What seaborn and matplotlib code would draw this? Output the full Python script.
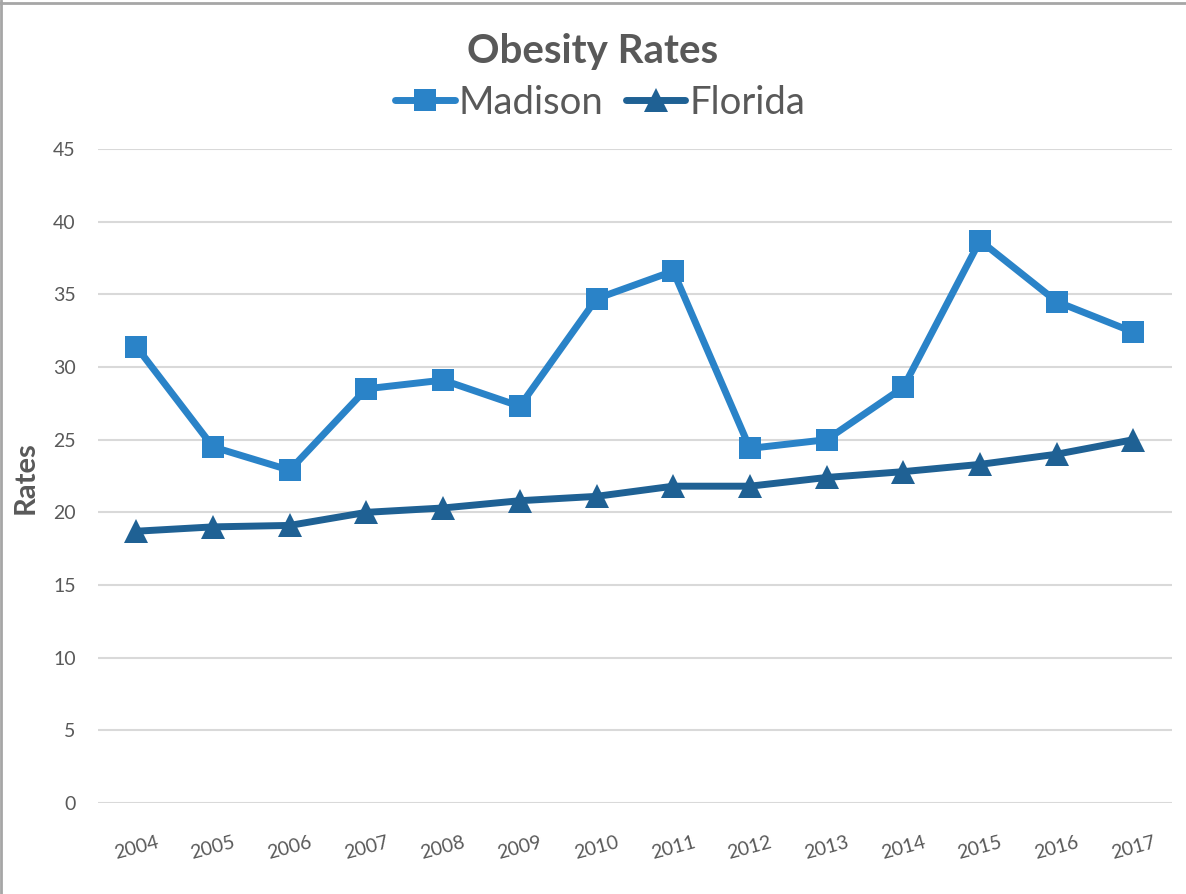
import matplotlib
matplotlib.use("Agg")
import matplotlib.pyplot as plt
import seaborn as sns
import pandas as pd
from matplotlib.lines import Line2D

years = ["2004", "2005", "2006", "2007", "2008", "2009", "2010",
         "2011", "2012", "2013", "2014", "2015", "2016", "2017"]
madison = [31.4, 24.5, 22.9, 28.5, 29.1, 27.3, 34.7, 36.6, 24.4, 25.0, 28.6, 38.7, 34.5, 32.4]
florida = [18.7, 19.0, 19.1, 20.0, 20.3, 20.8, 21.1, 21.8, 21.8, 22.4, 22.8, 23.3, 24.0, 25.0]
series_names = ["Madison", "Florida"]
yticks = [0, 5, 10, 15, 20, 25, 30, 35, 40, 45]

sns.set_theme(style="white")
plt.rcParams['font.family'] = ['Lato', 'DejaVu Sans']

c_mad = "#2A83C8"
c_flo = "#1F6194"
grey = "#595959"

df = pd.DataFrame({
    "pos": list(range(len(years))) * 2,
    "Year": years * 2,
    "Rate": madison + florida,
    "Series": [series_names[0]] * len(years) + [series_names[1]] * len(years),
})

fig = plt.figure(figsize=(11.86, 8.94), dpi=100)
ax = fig.add_axes([0.0826, 0.1018, 0.9054, 0.7315])

sns.lineplot(data=df[df.Series == "Madison"], x="pos", y="Rate", ax=ax,
             color=c_mad, linewidth=5, marker="s", markersize=16,
             markeredgewidth=0, legend=False, zorder=3)
sns.lineplot(data=df[df.Series == "Florida"], x="pos", y="Rate", ax=ax,
             color=c_flo, linewidth=5, marker="^", markersize=17,
             markeredgewidth=0, legend=False, zorder=3)

ax.set_xlim(-0.5, len(years) - 0.5)
ax.set_ylim(0, 45)
ax.set_yticks(yticks)
ax.set_yticklabels([str(v) for v in yticks], fontsize=14, color=grey)
ax.set_xticks(range(len(years)))
ax.set_xticklabels(years, rotation=15, fontsize=14, color=grey, ha="center")
ax.tick_params(axis="x", pad=22, length=0)
ax.tick_params(axis="y", pad=16, length=0)
ax.grid(axis="y", color="#D9D9D9", linewidth=1.5)
ax.set_axisbelow(True)
for s in ax.spines.values():
    s.set_visible(False)
ax.set_xlabel("")
ax.set_ylabel("Rates", fontsize=21, fontweight="bold", color=grey)
ax.yaxis.set_label_coords(-0.055, 0.497)

fig.text(0.5, 0.942, "Obesity Rates", ha="center", va="center",
         fontsize=29, fontweight="bold", color=grey)

handles = [Line2D([], [], color=c_mad, lw=5, marker="s", markersize=16, markeredgewidth=0),
           Line2D([], [], color=c_flo, lw=5, marker="^", markersize=17, markeredgewidth=0)]
fig.legend(handles, series_names, loc="center", bbox_to_anchor=(0.506, 0.885),
           ncol=2, frameon=False, fontsize=27.5, labelcolor=grey,
           handlelength=1.55, handletextpad=0.1, columnspacing=0.6)

# chart frame (top and left edges visible)
fig.add_artist(Line2D([0, 1], [0.997, 0.997], transform=fig.transFigure, color="#A6A6A6", lw=2))
fig.add_artist(Line2D([0.001, 0.001], [0, 1], transform=fig.transFigure, color="#A6A6A6", lw=2))

fig.savefig("out.png", dpi=100, facecolor="white")
